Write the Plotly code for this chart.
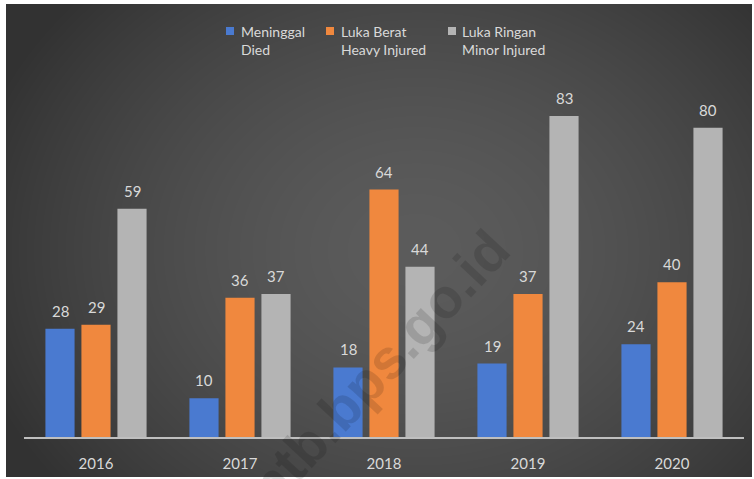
import base64
import struct
import zlib

import numpy as np
import plotly.graph_objects as go

# ---------------- data ----------------
years = ["2016", "2017", "2018", "2019", "2020"]
died = [28, 10, 18, 19, 24]
heavy = [29, 36, 64, 37, 40]
minor = [59, 37, 44, 83, 80]
series_names = ["Meninggal<br>Died", "Luka Berat<br>Heavy Injured", "Luka Ringan<br>Minor Injured"]
series_values = [died, heavy, minor]
series_colors = ["#4a7ad0", "#f0883e", "#b4b4b4"]

# ---------------- geometry ----------------
FIG_W, FIG_H = 754, 479
M_L, M_R, M_T, M_B = 24, 10, 89, 42
PLOT_W = FIG_W - M_L - M_R
PLOT_H = FIG_H - M_T - M_B
FONT = "Lato"
TXT = "#d9d9d9"


def px_to_paper_x(px):
    return (px - M_L) / PLOT_W


def px_to_paper_y(py):
    return (FIG_H - M_B - py) / PLOT_H


# ---------------- background gradient image ----------------
BG_X0, BG_Y0, BG_X1, BG_Y1 = 6, 4, 752, 477
W, H = BG_X1 - BG_X0, BG_Y1 - BG_Y0
yy, xx = np.mgrid[0:H, 0:W]
cx, cy = 0.55 * W, 0.52 * H
r = np.sqrt(((xx - cx) / (W * 0.62)) ** 2 + ((yy - cy) / (H * 0.80)) ** 2)
v = 0x5c - (0x5c - 0x32) * np.clip(r, 0, 1) ** 1.6
arr = np.clip(v, 0, 255).astype(np.uint8)


def make_png(a):
    h, w = a.shape
    raw = b"".join(b"\x00" + row.tobytes() for row in a)

    def chunk(t, d):
        c = struct.pack(">I", len(d)) + t + d
        return c + struct.pack(">I", zlib.crc32(t + d) & 0xFFFFFFFF)

    ihdr = struct.pack(">IIBBBBB", w, h, 8, 0, 0, 0, 0)
    return (b"\x89PNG\r\n\x1a\n" + chunk(b"IHDR", ihdr)
            + chunk(b"IDAT", zlib.compress(raw, 9)) + chunk(b"IEND", b""))


bg_uri = "data:image/png;base64," + base64.b64encode(make_png(arr)).decode()

# ---------------- figure ----------------
fig = go.Figure()
for name, vals, col in zip(series_names, series_values, series_colors):
    fig.add_trace(go.Bar(
        x=years, y=vals, name=name,
        marker=dict(color=col, line=dict(width=0)),
        showlegend=False,
        hoverinfo="x+y",
    ))

annotations = []
SLOT = PLOT_W / len(years) * 0.75 / 3
for i, vals in enumerate(series_values):
    for j, v in enumerate(vals):
        annotations.append(dict(
            x=j, y=v, xref="x", yref="y", text=str(v), showarrow=False,
            xshift=(i - 1) * SLOT, yshift=18, yanchor="middle",
            font=dict(family=FONT, size=15, color=TXT),
        ))

# manual legend
legend_sq_x = [226, 326, 448]
legend_txt_x = [239, 339, 460]
shapes = []
for sx, tx, name, col in zip(legend_sq_x, legend_txt_x, series_names, series_colors):
    shapes.append(dict(
        type="rect", xref="paper", yref="paper",
        x0=px_to_paper_x(sx), x1=px_to_paper_x(sx + 8),
        y0=px_to_paper_y(35), y1=px_to_paper_y(27),
        fillcolor=col, line=dict(width=0), layer="above",
    ))
    annotations.append(dict(
        x=px_to_paper_x(tx), y=px_to_paper_y(21), xref="paper", yref="paper",
        text=name, showarrow=False, xanchor="left", yanchor="top", align="left",
        font=dict(family=FONT, size=14, color=TXT),
    ))

# watermark
annotations.append(dict(
    x=px_to_paper_x(378), y=px_to_paper_y(368), xref="paper", yref="paper",
    text="<b>ntb.bps.go.id</b>", showarrow=False, textangle=-47,
    xanchor="center", yanchor="middle",
    font=dict(family="Liberation Sans", size=56, color="rgba(0,0,0,0.13)"),
))

fig.update_layout(
    width=FIG_W, height=FIG_H,
    margin=dict(l=M_L, r=M_R, t=M_T, b=M_B, pad=0, autoexpand=False),
    paper_bgcolor="white",
    plot_bgcolor="rgba(0,0,0,0)",
    barmode="group", bargap=0.25, bargroupgap=0.19,
    annotations=annotations,
    shapes=shapes,
    images=[dict(
        source=bg_uri, xref="paper", yref="paper",
        x=px_to_paper_x(BG_X0), y=px_to_paper_y(BG_Y0),
        sizex=W / PLOT_W, sizey=H / PLOT_H,
        xanchor="left", yanchor="top", sizing="stretch", layer="below",
    )],
    xaxis=dict(
        type="category", range=[-0.5, len(years) - 0.5],
        showline=True, linecolor="#bfbfbf", linewidth=2,
        showgrid=False, zeroline=False,
        ticks="outside", ticklen=12, tickcolor="rgba(0,0,0,0)",
        tickfont=dict(family=FONT, size=15, color=TXT),
        fixedrange=True, automargin=False,
    ),
    yaxis=dict(
        range=[0, 90], visible=False, showgrid=False, zeroline=False,
        fixedrange=True, automargin=False,
    ),
    showlegend=False,
)

fig.write_html(
    "out.html",
    config={"displayModeBar": False},
    post_script="document.body.style.margin='0';document.body.style.overflow='hidden';",
)
